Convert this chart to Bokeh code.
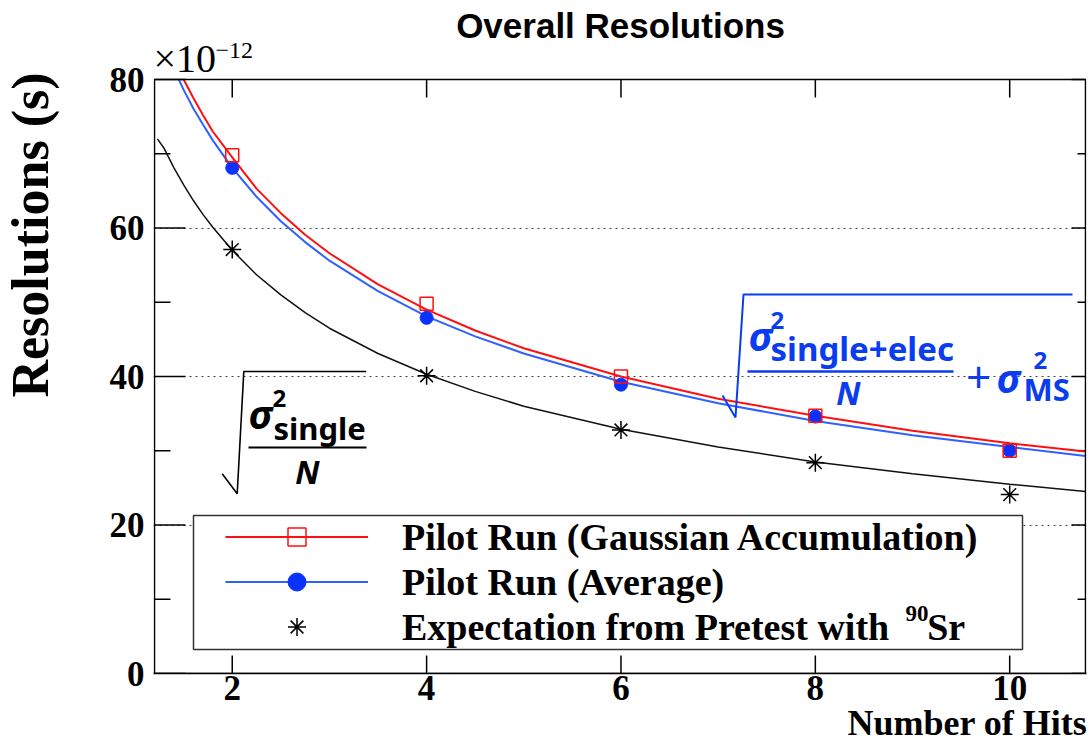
import math
from bokeh.plotting import figure
from bokeh.models import (Range1d, LinearAxis, FixedTicker, Label, Title,
                          Legend, LegendItem, BoxAnnotation, PolyAnnotation, Grid)
from bokeh.embed import file_html
from bokeh.resources import INLINE

# ---------------- data (units of 1e-12 s) ----------------
hits = [2, 4, 6, 8, 10]
gauss_acc = [69.8, 49.8, 40.0, 34.7, 30.0]
average = [68.1, 47.9, 38.9, 34.6, 30.0]
pretest = [57.1, 40.1, 32.8, 28.4, 24.1]

gauss_fit_x = [1.5, 1.6, 1.7, 1.8, 2.0, 2.25, 2.5, 2.75, 3.0, 3.5, 4.0, 4.5, 5.0, 6.0, 7.0, 8.0, 9.0, 10.0, 10.78]
gauss_fit = [80.0, 77.5, 75.2, 73.0, 69.5, 65.3, 62.0, 59.1, 56.6, 52.4, 49.0, 46.2, 43.8, 40.0, 37.0, 34.7, 32.7, 31.0, 29.9]
average_fit_x = [1.45, 1.5, 1.6, 1.7, 1.8, 2.0, 2.25, 2.5, 2.75, 3.0, 3.5, 4.0, 4.5, 5.0, 6.0, 7.0, 8.0, 9.0, 10.0, 10.78]
average_fit = [80.0, 78.6, 76.1, 73.9, 71.8, 68.1, 64.2, 60.9, 58.1, 55.6, 51.5, 48.1, 45.4, 43.1, 39.3, 36.4, 34.0, 32.1, 30.5, 29.3]
pre_fit_x = [1.23, 1.3, 1.4, 1.5, 1.6, 1.7, 1.8, 2.0, 2.25, 2.5, 2.75, 3.0, 3.5, 4.0, 4.5, 5.0, 6.0, 7.0, 8.0, 9.0, 10.0, 10.78]
pretest_fit = [72.0, 70.7, 68.1, 65.8, 63.7, 61.8, 60.1, 57.0, 53.7, 51.0, 48.6, 46.5, 43.1, 40.3, 38.0, 36.0, 32.9, 30.5, 28.5, 26.9, 25.5, 24.5]

x_ticks = [2, 4, 6, 8, 10]
y_major = [0, 20, 40, 60, 80]
y_minor = [10, 30, 50, 70]
y_grid = [20, 40, 60]
NBSP = "\u00a0"
labels = ["Pilot Run (Gaussian Accumulation)", "Pilot Run (Average)",
          "Expectation from Pretest with" + NBSP * 4 + "Sr"]

# ---------------- layout ----------------
W, H = 1091, 751
L, R, T, B = 154, 1085, 79, 673          # pixel box of the axes frame (data 1.2..10.78 x 0..80)
X0, X1, Y0, Y1 = 1.2, 10.78, 0.0, 80.0

def dx(px):
    return X0 + (px - L) * (X1 - X0) / (R - L)

def dy(py):
    return Y0 + (B - py) * (Y1 - Y0) / (B - T)

def xlen(px):
    return px * (X1 - X0) / (R - L)

def ylen(px):
    return px * (Y1 - Y0) / (B - T)

FL, FR = L - 1, R + 1                    # drawing frame slightly wider than the box
SERIF = "Liberation Serif"

p = figure(width=W, height=H, x_range=Range1d(dx(FL), dx(FR)), y_range=Range1d(Y0, dy(0)),
           output_backend="svg", toolbar_location=None,
           x_axis_type=None, y_axis_type=None,
           min_border_left=FL, min_border_right=W - FR, min_border_top=0, min_border_bottom=H - B)
p.background_fill_color = "white"
p.border_fill_color = "white"
p.outline_line_color = None

def style_axis(ax, standoff):
    ax.axis_line_color = "black"
    ax.axis_line_width = 1.5
    ax.major_tick_in = 0
    ax.major_tick_out = 0
    ax.minor_tick_in = 0
    ax.minor_tick_out = 0
    ax.major_label_standoff = standoff
    ax.major_label_text_font = SERIF
    ax.major_label_text_font_style = "bold"
    ax.major_label_text_font_size = "35px"
    ax.major_label_text_color = "black"

xb = LinearAxis(ticker=FixedTicker(ticks=x_ticks, minor_ticks=[]))
style_axis(xb, 2)
p.add_layout(xb, "below")
p.add_layout(Title(text="Number of Hits", align="right", offset=-1,
                   text_font=SERIF, text_font_style="bold", text_font_size="36px",
                   text_line_height=0.6, text_color="black", standoff=-4), "below")

yl = LinearAxis(ticker=FixedTicker(ticks=y_major, minor_ticks=[]))
style_axis(yl, 9)
yl.axis_line_color = None
yl.axis_label = "I"                       # blank spacer between tick labels and the title
yl.axis_label_text_color = "white"
yl.axis_label_text_font_size = "8px"
yl.axis_label_standoff = 39
p.add_layout(yl, "left")
p.add_layout(Title(text="Resolutions (s)", align="right", offset=72,
                   text_font=SERIF, text_font_style="bold", text_font_size="52px",
                   text_line_height=1.0, text_color="black", standoff=-7), "left")

grid = Grid(dimension=1, ticker=FixedTicker(ticks=y_grid), grid_line_color="#444444",
            grid_line_width=1, grid_line_dash="2 4")
p.add_layout(grid)

# ---------------- inward ticks on all four sides ----------------
TK = dict(line_color="black", line_width=1.5)
p.segment(x0=[X0] * len(y_major), y0=y_major, x1=[X0 + xlen(31)] * len(y_major), y1=y_major, **TK)
p.segment(x0=[X0] * len(y_minor), y0=y_minor, x1=[X0 + xlen(16)] * len(y_minor), y1=y_minor, **TK)
p.segment(x0=[X1] * len(y_major), y0=y_major, x1=[X1 - xlen(14)] * len(y_major), y1=y_major, **TK)
p.segment(x0=[X1] * len(y_minor), y0=y_minor, x1=[X1 - xlen(8)] * len(y_minor), y1=y_minor, **TK)
p.segment(x0=x_ticks, y0=[Y0] * len(x_ticks), x1=x_ticks, y1=[Y0 + ylen(18)] * len(x_ticks), **TK)
p.segment(x0=x_ticks, y0=[Y1] * len(x_ticks), x1=x_ticks, y1=[Y1 - ylen(18)] * len(x_ticks), **TK)

# ---------------- curves & points ----------------
RED = "#ff1010"
BLUE_LINE = "#3060ff"
BLUE = "#0a32ff"

r_fit = p.line(gauss_fit_x, gauss_fit, line_color=RED, line_width=2)
b_fit = p.line(average_fit_x, average_fit, line_color=BLUE_LINE, line_width=2)
k_fit = p.line(pre_fit_x, pretest_fit, line_color="#111111", line_width=1.5)

k_pts = p.scatter(hits, pretest, marker="asterisk", size=18, line_color="black", line_width=1.5)
b_pts = p.scatter(hits, average, marker="circle", size=13, fill_color=BLUE, line_color=BLUE)
r_pts = p.scatter(hits, gauss_acc, marker="square", size=13, fill_color=None,
                  line_color=RED, line_width=1.5)

# axes box
p.add_layout(BoxAnnotation(left=X0, right=X1, bottom=Y0, top=Y1, fill_alpha=0, fill_color=None,
                           line_color="black", line_alpha=1.0, line_width=1.5, level="annotation"))

# ---------------- legend ----------------
box = BoxAnnotation(left=dx(193), right=dx(1022), top=dy(515), bottom=dy(649),
                    fill_color="white", fill_alpha=1.0, line_color="#333333", line_alpha=1.0,
                    line_width=1.5, level="annotation")
p.add_layout(box)

legend = Legend(items=[LegendItem(label=labels[0], renderers=[r_fit, r_pts]),
                       LegendItem(label=labels[1], renderers=[b_fit, b_pts]),
                       LegendItem(label=labels[2], renderers=[k_pts])],
                location=(225 - FL, B - 649), padding=0, spacing=0, margin=0,
                glyph_width=143, glyph_height=45, label_height=45, label_standoff=34,
                border_line_alpha=0, background_fill_alpha=0,
                label_text_font=SERIF, label_text_font_style="bold",
                label_text_font_size="38px", label_text_color="black")
p.add_layout(legend, "center")

# ---------------- texts ----------------
def lab(px, py, text, size, color="black", font=SERIF, style="bold", align="left",
        baseline="middle", angle=0.0):
    p.add_layout(Label(x=dx(px), y=dy(py), text=text, text_font=font, text_font_style=style,
                       text_font_size=size, text_color=color, text_align=align,
                       text_baseline=baseline, angle=angle))

lab(620, 25, "Overall Resolutions", "35px", font="Liberation Sans", align="center")
lab(153, 58, "\u00d710", "40px", style="normal")
lab(215, 50, "\u221212", "24px", style="normal")
lab(905, 613, "90", "23px")

def stroke(pts, color, width):
    path = pts + pts[-2:0:-1]
    p.add_layout(PolyAnnotation(xs=[dx(a) for a, b in path], ys=[dy(b) for a, b in path],
                                fill_color=None, fill_alpha=0, line_color=color, line_alpha=1.0,
                                line_width=width))

MATH = "Noto Sans"
# left formula (black)
stroke([(221.7, 473.3), (236.7, 493.3), (243.3, 371), (365.7, 371)], "black", 1.6)
stroke([(248, 447), (366, 447)], "black", 2)
lab(248, 413, "\u03c3", "40px", font=MATH, style="bold italic")
lab(272, 398, "2", "24px", font=MATH)
lab(273, 427, "single", "31px", font=MATH)
lab(307, 471, "N", "32px", font=MATH, style="bold italic", align="center")

# right formula (blue)
FB = "#0a3cf0"
stroke([(722, 395), (735, 417), (743, 294), (1072, 294)], FB, 2)
stroke([(747, 371), (953, 371)], FB, 2.5)
lab(748, 335, "\u03c3", "40px", color=FB, font=MATH, style="bold italic")
lab(770, 320, "2", "24px", color=FB, font=MATH)
lab(770, 348, "single+elec", "33px", color=FB, font=MATH)
lab(848, 392, "N", "32px", color=FB, font=MATH, style="bold italic", align="center")
lab(978, 377, "+", "44px", color=FB, font=MATH, style="normal", align="center")
lab(996, 377, "\u03c3", "40px", color=FB, font=MATH, style="bold italic")
lab(1033, 360, "2", "24px", color=FB, font=MATH)
lab(1023, 388, "MS", "31px", color=FB, font=MATH)

open("out.html", "w").write(file_html(p, INLINE))
